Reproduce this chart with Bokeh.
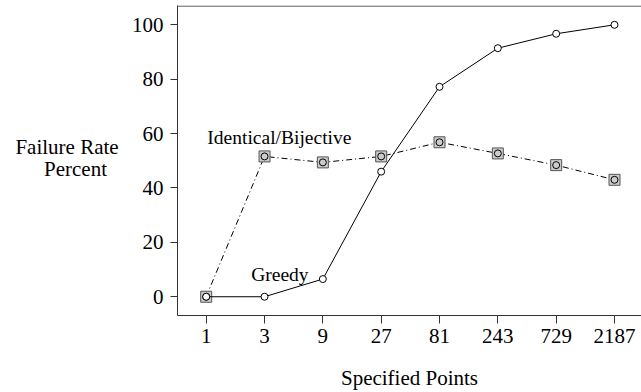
import numpy as np
from bokeh.plotting import figure
from bokeh.layouts import row
from bokeh.models import (Range1d, FixedTicker, CustomJSTickFormatter, Span, Label,
                          ColumnDataSource)
from bokeh.core.properties import value
from bokeh.embed import file_html
from bokeh.resources import INLINE

points = [1, 3, 9, 27, 81, 243, 729, 2187]
greedy = [0, 0, 6.5, 46.0, 77.2, 91.4, 96.7, 100.0]
identical = [0, 51.6, 49.4, 51.6, 56.8, 52.7, 48.4, 43.0]
y_ticks = [0, 20, 40, 60, 80, 100]
y_title = ["Failure Rate", "Percent"]

FONT = "Liberation Serif"
TICK_FS = "21px"
LAB_FS = "21px"
ANN_FS = "19.5px"

LEFT_W = 120

# ---- narrow panel holding the horizontal y-axis title ----
t = figure(width=LEFT_W, height=392, output_backend="svg", toolbar_location=None,
           x_axis_type=None, y_axis_type=None,
           x_range=Range1d(0, LEFT_W), y_range=Range1d(392, 0),
           min_border=0)
t.outline_line_color = None
t.grid.visible = False
t.text(x=[66.5, 75], y=[178.3, 206.7], text=y_title, text_font=value(FONT),
       text_font_size=LAB_FS, text_color="black", text_align="center",
       text_baseline="alphabetic")

# ---- main chart ----
p = figure(width=641 - LEFT_W, height=392, output_backend="svg", toolbar_location=None,
           x_axis_type="log",
           x_range=Range1d(3 ** -0.492, 3 ** 7.463),
           y_range=Range1d(-6.9, 107.1),
           min_border_left=177 - LEFT_W, min_border_right=0, min_border_top=5,
           min_border_bottom=77)
p.outline_line_color = None
p.grid.visible = False
p.background_fill_color = "white"
p.border_fill_color = "white"

src = ColumnDataSource(dict(x=points, g=greedy, i=identical))

# Identical/Bijective
p.line("x", "i", source=src, line_color="black", line_width=1, line_dash="6 3 1 3")
p.scatter("x", "i", source=src, marker="square", size=11, line_color="#555555",
          fill_color="#cccccc", line_width=1)
p.scatter("x", "i", source=src, marker="circle", size=7, line_color="black",
          fill_color=None, line_width=1)
# Greedy
p.line("x", "g", source=src, line_color="black", line_width=1)
p.scatter("x", "g", source=src, marker="circle", size=7, line_color="black",
          fill_color="white", line_width=1)

p.add_layout(Span(location=106.9, dimension="width", line_color="#333333", line_width=1))

for ax in (p.xaxis[0], p.yaxis[0]):
    ax.axis_line_color = "#333333"
    ax.major_tick_line_color = "#333333"
    ax.minor_tick_line_color = None
    ax.major_tick_in = 0
    ax.major_label_text_font = FONT
    ax.major_label_text_font_size = TICK_FS
    ax.major_label_text_color = "black"
    ax.axis_label_text_font = FONT
    ax.axis_label_text_font_size = LAB_FS
    ax.axis_label_text_font_style = "normal"
    ax.axis_label_text_color = "black"

p.xaxis.ticker = FixedTicker(ticks=points, minor_ticks=[])
p.xaxis.formatter = CustomJSTickFormatter(code="return Math.round(tick).toString();")
p.xaxis.major_tick_out = 8
p.xaxis.major_label_standoff = 5
p.xaxis.axis_label = "Specified Points"
p.xaxis.axis_label_standoff = 20

p.yaxis.ticker = FixedTicker(ticks=y_ticks, minor_ticks=[])
p.yaxis.major_tick_out = 7
p.yaxis.major_label_standoff = 7

p.add_layout(Label(x=3 ** 0.02, y=58.5, text="Identical/Bijective", text_font=FONT,
                   text_font_size=ANN_FS, text_color="black", text_baseline="alphabetic"))
p.add_layout(Label(x=3 ** 0.771, y=8.2, text="Greedy", text_font=FONT,
                   text_font_size=ANN_FS, text_color="black", text_baseline="alphabetic"))

layout = row(t, p, spacing=0)
open("out.html", "w").write(file_html(layout, INLINE))
